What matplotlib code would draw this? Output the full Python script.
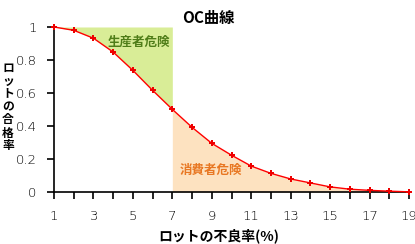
import matplotlib
matplotlib.use("Agg")
import matplotlib.pyplot as plt

plt.rcParams['font.family'] = ['Noto Sans CJK JP', 'DejaVu Sans']

defect_rate = [1, 2, 3, 4, 5, 6, 7, 8, 9, 10, 11, 12, 13, 14, 15, 16, 17, 18, 19]
accept_prob = [1.0, 0.98, 0.932, 0.848, 0.737, 0.616, 0.501, 0.392, 0.295, 0.223,
               0.157, 0.113, 0.079, 0.055, 0.031, 0.017, 0.010, 0.005, 0.001]
x_tick_labels = ['1', '', '3', '', '5', '', '7', '', '9', '', '11', '', '13', '', '15', '', '17', '', '19']
y_ticks = [0, 0.2, 0.4, 0.6, 0.8, 1.0]
y_tick_labels = ['0', '0.2', '0.4', '0.6', '0.8', '1']
split_x = 7

title = 'OC曲線'
xlabel = 'ロットの不良率(%)'
ylabel = 'ロットの合格率'
producer_risk = '生産者危険'
consumer_risk = '消費者危険'

W, H = 415, 244
fig = plt.figure(figsize=(W / 100, H / 100), dpi=100)
ax = fig.add_axes([54 / W, (H - 192) / H, (409 - 54) / W, (192 - 27) / H])

xs_left = [x for x in defect_rate if x <= split_x]
ys_left = accept_prob[:len(xs_left)]
xs_right = [x for x in defect_rate if x >= split_x]
ys_right = accept_prob[len(xs_left) - 1:]

ax.fill_between(xs_left, ys_left, 1, color='#d9ed97', linewidth=0)
ax.fill_between(xs_right, 0, ys_right, color='#fde2c0', linewidth=0)

ax.plot(defect_rate, accept_prob, color='#ff0000', linewidth=1, marker='P',
        markersize=5, markeredgewidth=0, markerfacecolor='#ee0000', clip_on=False, zorder=5)

ax.set_xlim(1, 19)
ax.set_ylim(0, 1)
ax.set_xticks(defect_rate)
ax.set_xticklabels(x_tick_labels)
ax.set_yticks(y_ticks)
ax.set_yticklabels(y_tick_labels)

for s in ['top', 'right']:
    ax.spines[s].set_visible(False)
for s in ['left', 'bottom']:
    ax.spines[s].set_linewidth(1.2)
    ax.spines[s].set_color('black')
ax.tick_params(axis='x', length=5, width=1.2, pad=8, labelsize=9.5)
ax.tick_params(axis='y', length=5, width=1.2, pad=7.5, labelsize=9.5)
for lab in ax.get_xticklabels() + ax.get_yticklabels():
    lab.set_family(['DejaVu Sans'])
    lab.set_fontweight('light')

ax.text(5.3, 0.905, producer_risk, color='#4f7d18', fontsize=9, fontweight='bold',
        ha='center', va='center')
ax.text(8.95, 0.13, consumer_risk, color='#e87722', fontsize=9, fontweight='bold',
        ha='center', va='center')

fig.text(208 / W, 1 - 18 / H, title, fontsize=11, fontweight='bold', ha='center', va='center')
fig.text(219 / W, 1 - 236 / H, xlabel, fontsize=10, fontweight='bold', ha='center', va='center')
fig.text(8 / W, 1 - 107 / H, '\n'.join(ylabel), fontsize=8.5, fontweight='bold',
         ha='center', va='center', linespacing=1.0)

fig.savefig('out.png', dpi=100)
